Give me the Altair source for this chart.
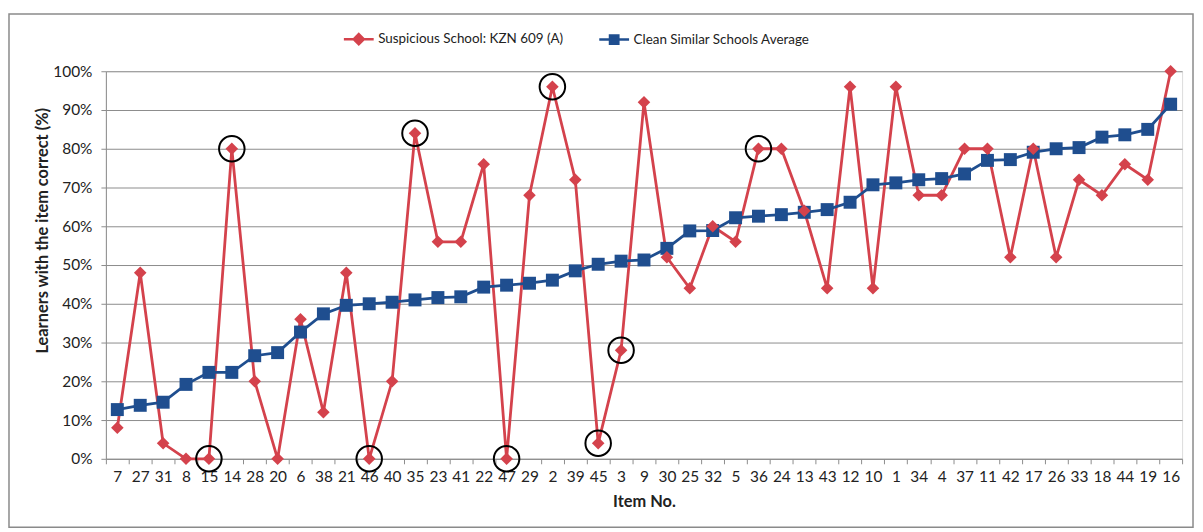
import altair as alt
import pandas as pd

items = ["7", "27", "31", "8", "15", "14", "28", "20", "6", "38",
         "21", "46", "40", "35", "23", "41", "22", "47", "29", "2",
         "39", "45", "3", "9", "30", "25", "32", "5", "36", "24",
         "13", "43", "12", "10", "1", "34", "4", "37", "11", "42",
         "17", "26", "33", "18", "44", "19", "16"]

suspicious = [8, 48, 4, 0, 0, 80, 20, 0, 36, 12,
              48, 0, 20, 84, 56, 56, 76, 0, 68, 96,
              72, 4, 28, 92, 52, 44, 60, 56, 80, 80,
              64, 44, 96, 44, 96, 68, 68, 80, 80, 52,
              80, 52, 72, 68, 76, 72, 100]

clean = [12.7, 13.8, 14.6, 19.2, 22.3, 22.3, 26.6, 27.4, 32.7, 37.4,
         39.6, 40.0, 40.4, 41.0, 41.6, 41.8, 44.3, 44.8, 45.3, 46.1,
         48.5, 50.2, 51.0, 51.3, 54.3, 58.8, 58.9, 62.2, 62.6, 63.0,
         63.6, 64.3, 66.2, 70.7, 71.2, 72.0, 72.3, 73.5, 77.0, 77.2,
         79.1, 80.0, 80.3, 83.0, 83.6, 85.0, 91.5]

circled = ["15", "14", "46", "35", "47", "2", "45", "3", "36"]

S_NAME = "Suspicious School: KZN 609 (A)"
C_NAME = "Clean Similar Schools Average"
RED = "#D4424C"
BLUE = "#1F4E8F"
FONT = "Lato"
TXT = "#222222"
LBL = 15.5
TTL = 16.5
LEG = 13.5

df = pd.DataFrame({
    "item": items + items,
    "series": [S_NAME] * len(items) + [C_NAME] * len(items),
    "value": [v / 100 for v in suspicious] + [v / 100 for v in clean],
})
circ_df = df[(df["series"] == S_NAME) & (df["item"].isin(circled))]

DIAMOND = "M-1,0L1,0M0,-0.34L0.34,0L0,0.34L-0.34,0Z"
SQUARE = "M-1,0L1,0M-0.28,-0.28L0.28,-0.28L0.28,0.28L-0.28,0.28Z"
DOM = [S_NAME, C_NAME]

x = alt.X("item:N", sort=items,
          scale=alt.Scale(type="band", paddingInner=0, paddingOuter=0),
          axis=alt.Axis(title="Item No.", labelAngle=0, tickBand="extent",
                        labelFont=FONT, labelFontSize=LBL, labelColor=TXT,
                        titleFont=FONT, titleFontSize=TTL, titleFontWeight="bold",
                        titleColor=TXT, domainColor="#8c8c8c", tickColor="#8c8c8c",
                        tickSize=5, labelPadding=6, titlePadding=9, grid=False))
y = alt.Y("value:Q", scale=alt.Scale(domain=[0, 1]),
          axis=alt.Axis(title="Learners with the item correct (%)", format=".0%",
                        values=[i / 10 for i in range(11)],
                        labelFont=FONT, labelFontSize=LBL, labelColor=TXT,
                        titleFont=FONT, titleFontSize=TTL, titleFontWeight="bold",
                        titleColor=TXT, domainColor="#8c8c8c", tickColor="#8c8c8c",
                        tickSize=5, labelPadding=9,
                        titleX=-64, titleY=160, titleAngle=270,
                        titleAlign="center", titleBaseline="middle",
                        grid=True, gridColor="#8c8c8c", gridWidth=1))

base = alt.Chart(df)

lines = base.mark_line(strokeWidth=2.8).encode(
    x=x, y=y,
    color=alt.Color("series:N", scale=alt.Scale(domain=DOM, range=[RED, BLUE]), legend=None),
)
blue_pts = base.transform_filter(alt.datum.series == C_NAME).mark_point(
    shape="square", filled=True, opacity=1, size=170, color=BLUE).encode(x=x, y=y)
red_pts = base.transform_filter(alt.datum.series == S_NAME).mark_point(
    shape="diamond", filled=True, opacity=1, size=160, color=RED).encode(x=x, y=y)

legend = alt.Legend(
    title=None, orient="none", legendX=238, legendY=-49, direction="horizontal",
    symbolSize=900, symbolStrokeWidth=2.5, labelFont=FONT, labelFontSize=LEG,
    labelColor=TXT, labelOffset=3, columnPadding=30, labelLimit=500,
)
legend_layer = base.mark_point(filled=True, opacity=1, strokeWidth=2.5, size=0).encode(
    x=x, y=y,
    fill=alt.Fill("series:N", scale=alt.Scale(domain=DOM, range=[RED, BLUE]), legend=legend),
    stroke=alt.Stroke("series:N", scale=alt.Scale(domain=DOM, range=[RED, BLUE]), legend=legend),
    shape=alt.Shape("series:N", scale=alt.Scale(domain=DOM, range=[DIAMOND, SQUARE]), legend=legend),
)

circles = alt.Chart(circ_df).mark_point(shape="circle", filled=False, size=660,
                                        stroke="black", strokeWidth=2, opacity=1).encode(x=x, y=y)

frame = alt.Chart(pd.DataFrame({"k": [0]})).mark_rect(
    fillOpacity=0, stroke="#8a8a8a", strokeWidth=1.5
).encode(x=alt.value(-97.5), x2=alt.value(1094), y=alt.value(-57.5), y2=alt.value(459))

chart = alt.layer(frame, legend_layer, lines, blue_pts, red_pts, circles).properties(
    width=1083, height=390,
    autosize=alt.AutoSizeParams(type="none"),
    padding={"left": 98.5, "top": 62, "right": 13, "bottom": 70},
).configure_view(stroke="transparent").configure(background="white")

chart.save("out.html", embed_options={"renderer": "svg", "actions": False})
